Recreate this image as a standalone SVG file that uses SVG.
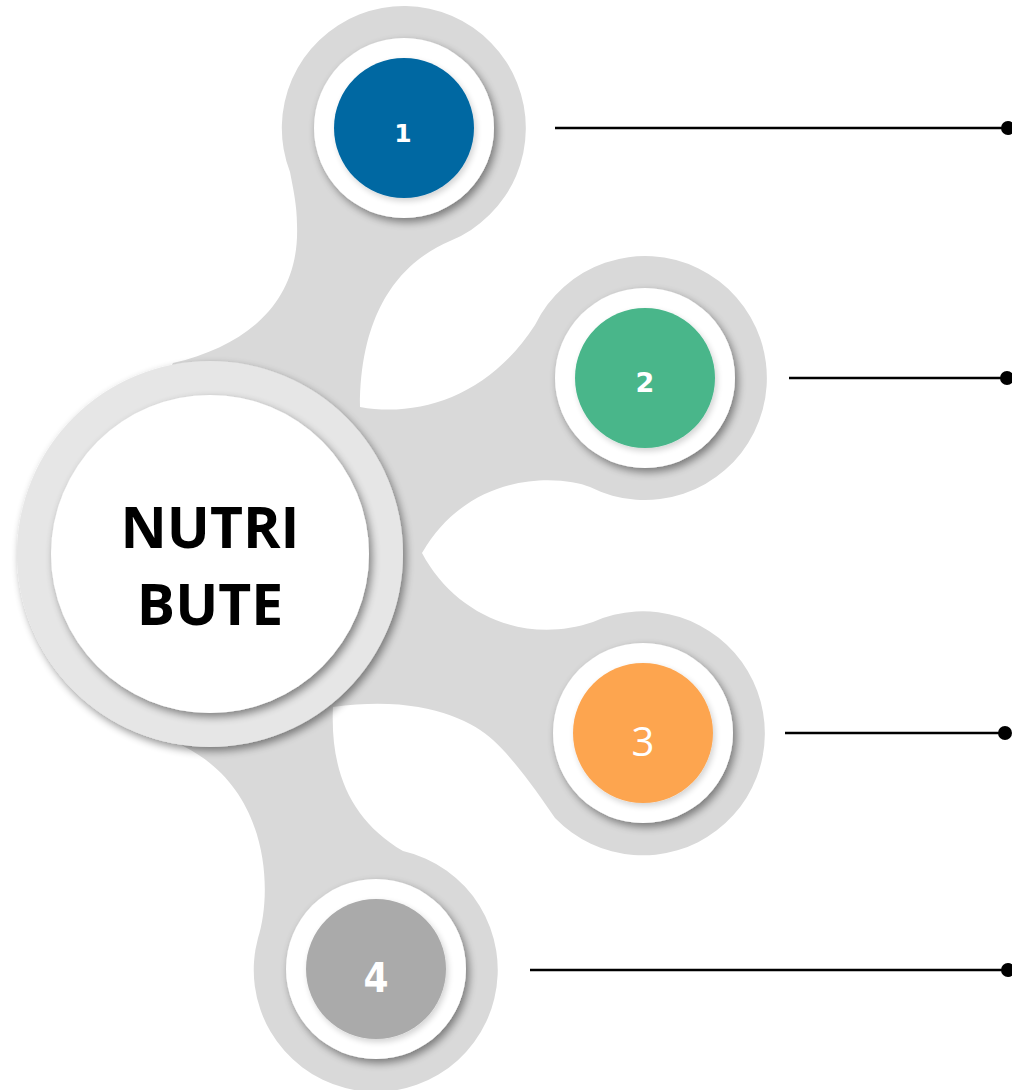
<svg xmlns="http://www.w3.org/2000/svg" width="1012" height="1090" viewBox="0 0 1012 1090">
<defs>
<style>
.blob{fill:#d9d9d9}
.ring{fill:#e6e6e6}
.white{fill:#ffffff}
.line{stroke:#000;stroke-width:2.6;fill:none}
.dot{fill:#000}
.num{fill:#fff;text-anchor:middle}
</style>
<filter id="sh" x="-20%" y="-20%" width="140%" height="140%">
<feGaussianBlur in="SourceAlpha" stdDeviation="4"/>
<feOffset dx="3" dy="4" result="b"/>
<feComponentTransfer><feFuncA type="linear" slope="0.45"/></feComponentTransfer>
<feMerge><feMergeNode/><feMergeNode in="SourceGraphic"/></feMerge>
</filter>
<filter id="sh2" x="-20%" y="-20%" width="140%" height="140%">
<feGaussianBlur in="SourceAlpha" stdDeviation="3"/>
<feOffset dx="2" dy="3" result="b"/>
<feComponentTransfer><feFuncA type="linear" slope="0.18"/></feComponentTransfer>
<feMerge><feMergeNode/><feMergeNode in="SourceGraphic"/></feMerge>
</filter>
</defs>
<rect width="1012" height="1090" fill="#ffffff"/>
<g id="connectors">
<path class="blob" d="M290,172 A122,122 0 1 1 450,241 C410,258 360,300 360,407 C420,418 490,395 535,325 A122,122 0 1 1 590,487 C560,475 470,470 422,553 C455,615 525,645 593,622 A122,122 0 1 1 555,818 C540,796 515,760 493,740 C470,719 420,695 333,707 C330,770 350,820 403,851 A122,122 0 1 1 258,938 C272,895 272,790 183,746 L60,554 L173,363 C250,345 300,300 297,225 C297,205 293,188 290,172 Z"/>
<line class="line" x1="555" y1="128" x2="1008" y2="128"/>
<circle class="dot" cx="1008" cy="128" r="7"/>
<line class="line" x1="789" y1="378" x2="1007" y2="378"/>
<circle class="dot" cx="1007" cy="378" r="7"/>
<line class="line" x1="785" y1="733" x2="1005" y2="733"/>
<circle class="dot" cx="1005" cy="733" r="7"/>
<line class="line" x1="530" y1="970" x2="1008" y2="970"/>
<circle class="dot" cx="1008" cy="970" r="7"/>
</g>
<g id="center">
<circle class="ring" cx="210" cy="554" r="193" filter="url(#sh)"/>
<circle class="white" cx="210" cy="554" r="159" filter="url(#sh)"/>
<text x="210" y="548" font-family="'Open Sans','Noto Sans',sans-serif" font-weight="700" font-size="57" text-anchor="middle" fill="#000">NUTRI</text>
<text x="210" y="625" font-family="'Open Sans','Noto Sans',sans-serif" font-weight="700" font-size="57" text-anchor="middle" fill="#000">BUTE</text>
</g>
<g id="node1">
<circle class="white" cx="404" cy="128" r="90" filter="url(#sh)"/>
<circle cx="404" cy="128" r="70" fill="#0568a2" filter="url(#sh2)"/>
<text class="num" x="403" y="142" font-family="'DejaVu Sans',sans-serif" font-weight="700" font-size="25">1</text>
</g>
<g id="node2">
<circle class="white" cx="645" cy="378" r="90" filter="url(#sh)"/>
<circle cx="645" cy="378" r="70" fill="#48b68a" filter="url(#sh2)"/>
<text class="num" x="645" y="392" font-family="'DejaVu Sans',sans-serif" font-weight="700" font-size="27">2</text>
</g>
<g id="node3">
<circle class="white" cx="643" cy="733" r="90" filter="url(#sh)"/>
<circle cx="643" cy="733" r="70" fill="#fda550" filter="url(#sh2)"/>
<text class="num" x="643" y="756" font-family="'Open Sans',sans-serif" font-size="40">3</text>
</g>
<g id="node4">
<circle class="white" cx="376" cy="969" r="90" filter="url(#sh)"/>
<circle cx="376" cy="969" r="70" fill="#aaaaaa" filter="url(#sh2)"/>
<text class="num" x="376" y="992" font-family="'DejaVu Sans Condensed','DejaVu Sans',sans-serif" font-weight="700" font-size="40">4</text>
</g>
</svg>
